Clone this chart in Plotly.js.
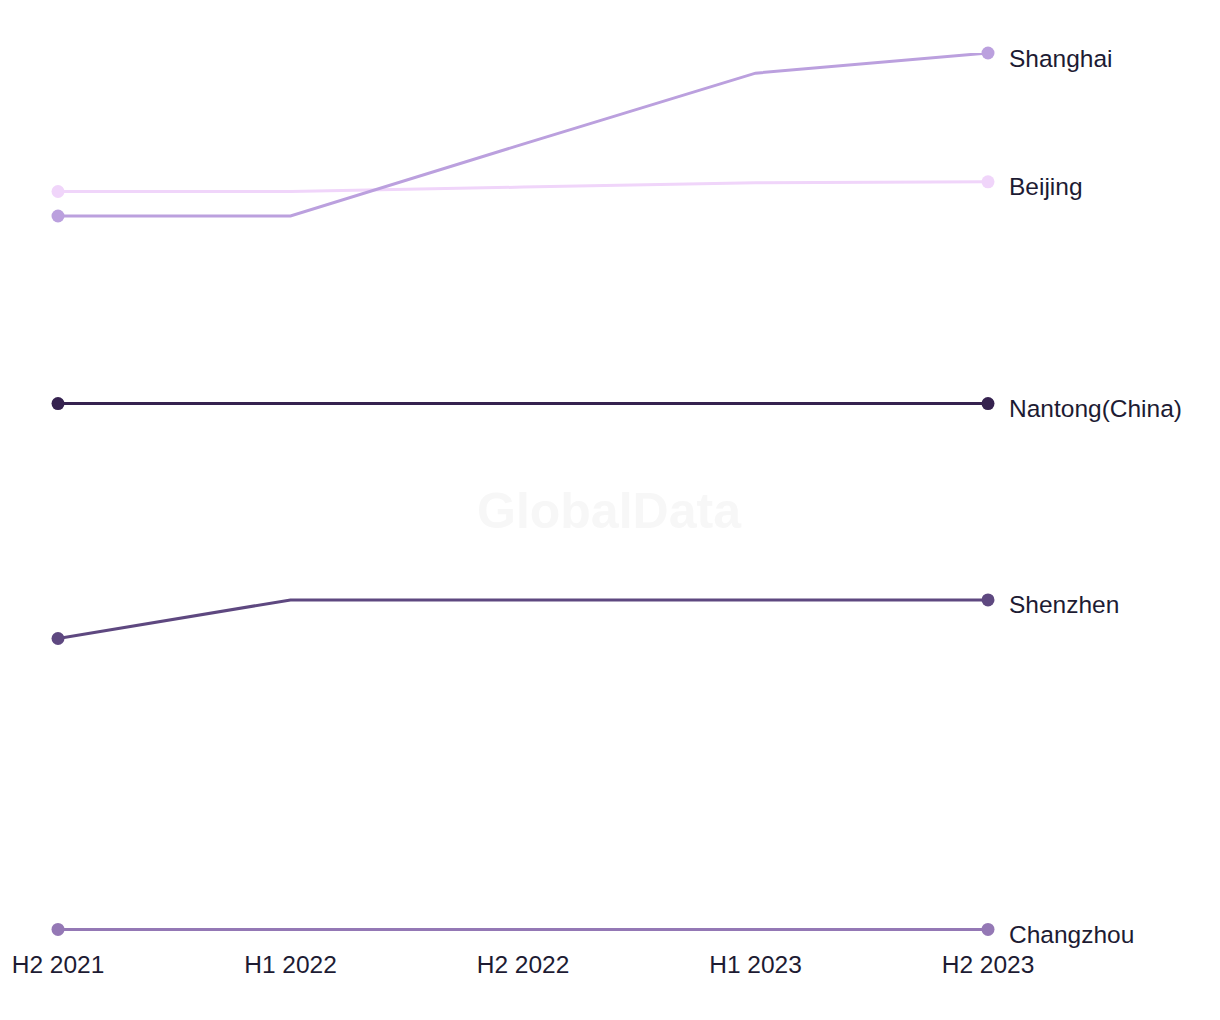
<!DOCTYPE html>
<html>
<head>
<meta charset="utf-8">
<script src="https://cdn.plot.ly/plotly-3.0.1.min.js"></script>
<style>html,body{margin:0;padding:0;background:#fff;}#chart{width:1220px;height:1020px;}</style>
</head>
<body>
<div id="chart"></div>
<script>
const periods = ["H2 2021", "H1 2022", "H2 2022", "H1 2023", "H2 2023"];
const cities = ["Shanghai", "Beijing", "Nantong(China)", "Shenzhen", "Changzhou"];
const shanghai = [81.4, 81.4, 89.6, 97.7, 100];
const beijing = [84.2, 84.2, 84.7, 85.2, 85.3];
const nantong = [60, 60, 60, 60, 60];
const shenzhen = [33.2, 37.6, 37.6, 37.6, 37.6];
const changzhou = [0, 0, 0, 0, 0];
const colors = ["#BBA0DE", "#F0D5FA", "#35224F", "#5E4880", "#9478B5"];

const seriesList = [shanghai, beijing, nantong, shenzhen, changzhou];
const n = periods.length;
const markerSizes = periods.map((p, i) => (i === 0 || i === n - 1) ? 13 : 0);

const traces = seriesList.map((vals, k) => ({
  type: "scatter",
  mode: "lines+markers",
  x: periods,
  y: vals,
  name: cities[k],
  line: { color: colors[k], width: 3 },
  marker: { color: colors[k], size: markerSizes, opacity: 1, line: { width: 0 } },
  cliponaxis: false,
  hoverinfo: "x+y+name"
}));
const order = [1, 0, 2, 3, 4];
const data = order.map(i => traces[i]);

const FONT = "Liberation Sans, Arial, sans-serif";
const annotations = seriesList.map((vals, k) => ({
  x: periods[n - 1],
  y: vals[n - 1],
  xref: "x",
  yref: "y",
  text: cities[k],
  showarrow: false,
  xanchor: "left",
  yanchor: "middle",
  xshift: 19,
  yshift: -5,
  font: { family: FONT, size: 24.5, color: "#1D1B33" }
}));
annotations.push({
  x: 0.5935, y: 0.488, xref: "paper", yref: "paper",
  text: "<b>GlobalData</b>",
  showarrow: false,
  font: { family: FONT, size: 50, color: "#F7F7F7" },
  xanchor: "center", yanchor: "middle"
});

const layout = {
  width: 1220,
  height: 1020,
  paper_bgcolor: "#ffffff",
  plot_bgcolor: "#ffffff",
  showlegend: false,
  margin: { l: 58, r: 232, t: 53, b: 73 },
  xaxis: {
    type: "category",
    range: [0, 4],
    showgrid: false,
    zeroline: false,
    showline: false,
    ticks: "",
    ticklabelstandoff: 0,
    tickfont: { family: FONT, size: 24.5, color: "#1D1B33" },
    fixedrange: true
  },
  yaxis: {
    range: [-2, 100],
    showgrid: false,
    zeroline: false,
    showline: false,
    showticklabels: false,
    ticks: "",
    fixedrange: true
  },
  annotations: annotations
};

Plotly.newPlot("chart", data, layout, { displayModeBar: false });
</script>
</body>
</html>
